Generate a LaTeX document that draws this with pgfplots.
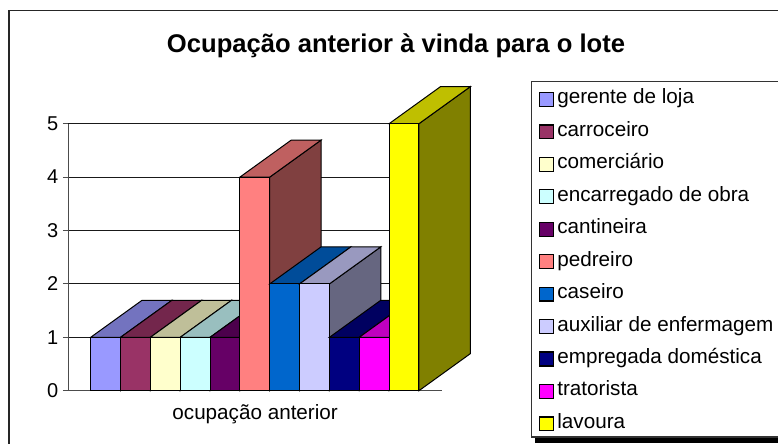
\documentclass[border=0pt]{standalone}
\usepackage{fontspec}
\setmainfont{Liberation Sans}
\usepackage{pgfplots}
\pgfplotsset{compat=1.18}
% x0 x1 xb0 xb1 v vb
\newcommand{\threeD}[8]{%
  \addplot[forget plot,draw=black,line width=.75pt,fill=#1!50!black] coordinates {(#4,0) (#6,0.693) (#6,#8) (#4,#7)} --cycle;
  \addplot[forget plot,draw=black,line width=.75pt,fill=#1!75!black] coordinates {(#3,#7) (#4,#7) (#6,#8) (#5,#8)} --cycle;
  \addplot[draw=black,line width=.75pt,fill=#1] coordinates {(#3,0) (#4,0) (#4,#7) (#3,#7)} --cycle;
  \addlegendentry{#2}%
}
\definecolor{c1}{HTML}{9999FF}\definecolor{c2}{HTML}{993366}\definecolor{c3}{HTML}{FFFFCC}
\definecolor{c4}{HTML}{CCFFFF}\definecolor{c5}{HTML}{660066}\definecolor{c6}{HTML}{FF8080}
\definecolor{c7}{HTML}{0066CC}\definecolor{c8}{HTML}{CCCCFF}\definecolor{c9}{HTML}{000080}
\definecolor{c10}{HTML}{FF00FF}\definecolor{c11}{HTML}{FFFF00}
\begin{document}
\begin{tikzpicture}[x=.75pt,y=.75pt]
\path[use as bounding box] (0,0) rectangle (778,443);
\clip (0,0) rectangle (778,443);
\fill[white] (0,0) rectangle (778,443);
\draw[line width=.8pt,black!85] (9,-20) rectangle (800,432.5);
\fill[black] (535,0) rectangle (800,6);
\draw[line width=.8pt,black!80,fill=white] (531.7,6) rectangle (800,361.5);
\node[font=\fontsize{19.2pt}{22pt}\selectfont\bfseries,anchor=center] at (396,397) {Ocupação anterior à vinda para o lote};
\begin{axis}[
  at={(51.225pt,39.225pt)},anchor=south west,
  scale only axis,width=280.28pt,height=200.25pt,
  xmin=-0.751,xmax=11.773,ymin=0,ymax=5,clip=false,
  axis x line=bottom,axis y line=left,axis line style={-,black!70,line width=.75pt},
  xtick=\empty,ytick={0,1,2,3,4,5},
  ymajorgrids,grid style={black!90,line width=.75pt},
  tick style={black!70,line width=.75pt},tick align=outside,major tick length=4pt,
  tick label style={font=\fontsize{15pt}{17pt}\selectfont},
  /pgf/number format/assume math mode=true,
  yticklabel style={xshift=0pt},
  xlabel={ocupação anterior},
  xlabel style={font=\fontsize{15.5pt}{18pt}\selectfont,at={(axis description cs:0.5,0)},anchor=north,yshift=-6.5pt},
  legend cell align=left,
  legend image code/.code={\draw[#1,line width=.9pt] (0pt,-3.7pt) rectangle (10.8pt,6.7pt);},
  legend style={at={(axis cs:15.0,5.6)},anchor=north west,draw=none,fill=none,inner sep=0pt,
    font=\fontsize{15.5pt}{18pt}\selectfont,row sep=11.08pt,column sep=2.4pt,
    nodes={inner sep=0pt,text height=8pt,text depth=4.2pt,anchor=west}},
]
\threeD{c1}{gerente de loja}{0}{1}{1.72}{2.72}{1}{1.693}
\threeD{c2}{carroceiro}{1}{2}{2.72}{3.72}{1}{1.693}
\threeD{c3}{comerciário}{2}{3}{3.72}{4.72}{1}{1.693}
\threeD{c4}{encarregado de obra}{3}{4}{4.72}{5.72}{1}{1.693}
\threeD{c5}{cantineira}{4}{5}{5.72}{6.72}{1}{1.693}
\threeD{c6}{pedreiro}{5}{6}{6.72}{7.72}{4}{4.693}
\threeD{c7}{caseiro}{6}{7}{7.72}{8.72}{2}{2.693}
\threeD{c8}{auxiliar de enfermagem}{7}{8}{8.72}{9.72}{2}{2.693}
\threeD{c9}{empregada doméstica}{8}{9}{9.72}{10.72}{1}{1.693}
\threeD{c10}{tratorista}{9}{10}{10.72}{11.72}{1}{1.693}
\threeD{c11}{lavoura}{10}{11}{11.72}{12.72}{5}{5.693}
\end{axis}
\end{tikzpicture}
\end{document}
